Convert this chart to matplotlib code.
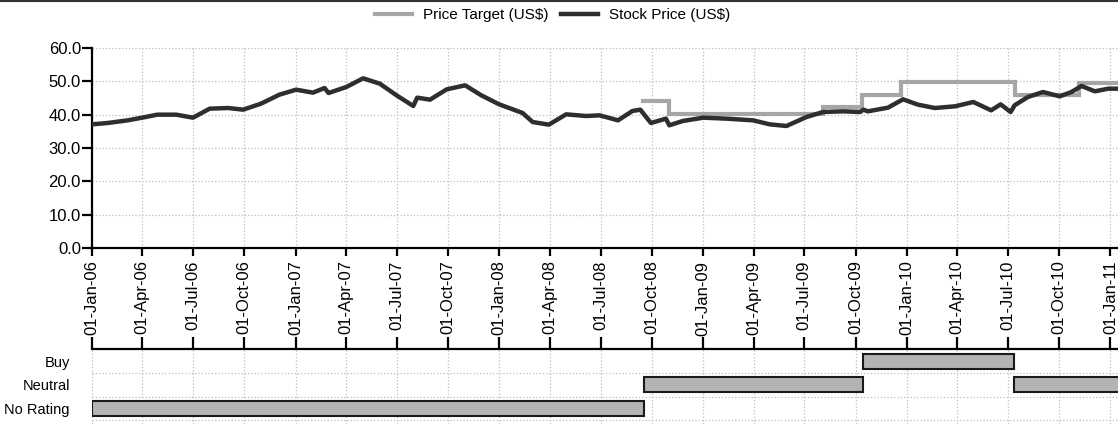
import matplotlib
matplotlib.use('Agg')
import matplotlib.pyplot as plt
import matplotlib.dates as mdates
from matplotlib.lines import Line2D
from matplotlib.ticker import MultipleLocator, FormatStrFormatter
import pandas as pd

plt.rcParams['font.family'] = ['Liberation Sans', 'DejaVu Sans']

# ---------------- data ----------------
stock_dates = ['2006-01-01', '2006-01-29', '2006-03-06', '2006-04-01', '2006-04-28',
               '2006-06-01', '2006-07-01', '2006-07-31', '2006-09-02', '2006-09-29',
               '2006-10-31', '2006-12-03', '2007-01-02', '2007-02-01', '2007-02-22',
               '2007-03-01', '2007-04-02', '2007-05-02', '2007-06-01', '2007-07-01',
               '2007-07-31', '2007-08-07', '2007-08-30', '2007-09-29', '2007-11-01',
               '2007-11-30', '2008-01-01', '2008-02-12', '2008-03-01', '2008-03-30',
               '2008-04-30', '2008-06-05', '2008-06-29', '2008-08-01', '2008-08-27',
               '2008-09-10', '2008-09-29', '2008-10-26', '2008-11-01', '2008-11-25',
               '2009-01-01', '2009-02-12', '2009-03-31', '2009-04-30', '2009-05-30',
               '2009-07-05', '2009-08-04', '2009-09-09', '2009-10-09', '2009-10-15',
               '2009-10-23', '2009-11-28', '2009-12-25', '2010-01-21', '2010-02-20',
               '2010-03-28', '2010-04-30', '2010-06-01', '2010-06-18', '2010-07-06',
               '2010-07-13', '2010-08-06', '2010-09-02', '2010-10-02', '2010-10-23',
               '2010-11-10', '2010-12-04', '2010-12-28', '2011-01-14']
stock_prices = [37.1, 37.5, 38.3, 39.1, 40.0,
                40.0, 39.1, 41.8, 42.0, 41.5,
                43.3, 46.0, 47.5, 46.6, 48.0,
                46.5, 48.3, 50.9, 49.3, 45.8,
                42.6, 45.1, 44.5, 47.6, 48.8,
                45.8, 43.1, 40.5, 37.8, 37.0,
                40.1, 39.6, 39.8, 38.3, 41.1,
                41.5, 37.5, 38.8, 36.8, 38.1,
                39.1, 38.8, 38.3, 37.1, 36.6,
                39.3, 40.8, 41.0, 40.8, 41.5,
                41.0, 42.1, 44.6, 43.0, 42.0,
                42.5, 43.8, 41.3, 43.1, 40.8,
                42.8, 45.3, 46.8, 45.5, 46.8,
                48.6, 47.0, 47.8, 47.8]

target_dates = ['2008-09-15', '2008-10-31', '2009-08-04', '2009-10-13',
                '2009-12-22', '2010-07-13', '2010-11-06', '2011-01-14']
target_prices = [44.1, 40.2, 42.2, 46.0, 49.8, 45.8, 49.5, 49.5]

rating_levels = ['No Rating', 'Neutral', 'Buy']
rating_names = ['No Rating', 'Neutral', 'Buy', 'Neutral']
rating_starts = ['2006-01-01', '2008-09-17', '2009-10-14', '2010-07-12']
rating_ends = ['2008-09-17', '2009-10-14', '2010-07-12', '2011-01-20']

legend_labels = ['Price Target (US$)', 'Stock Price (US$)']

# ---------------- figure ----------------
W, H = 1118, 424
fig = plt.figure(figsize=(W / 100, H / 100), dpi=100)

x0 = mdates.date2num(pd.Timestamp('2006-01-01'))
xend = x0 + 1026 / (1018.5 / 1826)

grid_kw = dict(color='#bdbdbd', linestyle=':', linewidth=0.9)

# price axes
ax = fig.add_axes([92 / W, 1 - 248 / H, (W - 92) / W, 200 / H])
sd = pd.to_datetime(stock_dates)
td = pd.to_datetime(target_dates)
l1, = ax.plot(td, target_prices, drawstyle='steps-post', color='#a6a6a6',
              linewidth=3.0, solid_joinstyle='miter', zorder=3)
l2, = ax.plot(sd, stock_prices, color='#2e2e2e', linewidth=3.2, zorder=4)
ax.set_xlim(x0, xend)
ax.set_ylim(0, 60)
ax.yaxis.set_major_locator(MultipleLocator(10))
ax.yaxis.set_major_formatter(FormatStrFormatter('%.1f'))
ax.xaxis.set_major_locator(mdates.MonthLocator(bymonth=[1, 4, 7, 10]))
ax.xaxis.set_major_formatter(mdates.DateFormatter('%d-%b-%y'))
ax.grid(True, **grid_kw)
ax.set_axisbelow(True)
for s in ['top', 'right']:
    ax.spines[s].set_visible(False)
for s in ['left', 'bottom']:
    ax.spines[s].set_linewidth(1.6)
ax.tick_params(axis='y', length=7, width=1.6, pad=1, labelsize=12)
ax.tick_params(axis='x', length=6, width=1.6, pad=3, labelsize=12, labelrotation=90)

# rating axes
ax2 = fig.add_axes([92 / W, 0, (W - 92) / W, 75 / H])
ax2.set_xlim(x0, xend)
ax2.set_ylim(-0.66, 2.53)
for name, s, e in zip(rating_names, rating_starts, rating_ends):
    a = mdates.date2num(pd.Timestamp(s))
    b = mdates.date2num(pd.Timestamp(e))
    ax2.barh(rating_levels.index(name), b - a, left=a, height=0.64,
             color='#b3b3b3', edgecolor='#1a1a1a', linewidth=1.5, zorder=3)
ax2.set_yticks(range(len(rating_levels)))
ax2.set_yticklabels(rating_levels)
ax2.set_yticks([-0.5, 0.5, 1.5], minor=True)
ax2.xaxis.set_major_locator(mdates.MonthLocator(bymonth=[1, 4, 7, 10]))
ax2.xaxis.tick_top()
ax2.tick_params(axis='x', length=9, width=1.6, labeltop=False, labelbottom=False)
ax2.tick_params(axis='y', which='both', length=0, pad=16, labelsize=10.5)
ax2.grid(True, axis='x', **grid_kw)
ax2.grid(True, axis='y', which='minor', **grid_kw)
ax2.set_axisbelow(True)
for s in ['left', 'right', 'bottom']:
    ax2.spines[s].set_visible(False)
ax2.spines['top'].set_linewidth(1.6)

# legend
fig.legend([l1, l2], legend_labels, loc='center', bbox_to_anchor=(552.5 / W, 1 - 15 / H),
           ncol=2, frameon=False, fontsize=11, handlelength=2.45,
           handletextpad=0.72, columnspacing=0.8, borderaxespad=0)

# top border
fig.add_artist(Line2D([0, 1], [1 - 1 / H, 1 - 1 / H], color='#333333', linewidth=1.5,
                      transform=fig.transFigure))

fig.savefig('out.png', dpi=100)
